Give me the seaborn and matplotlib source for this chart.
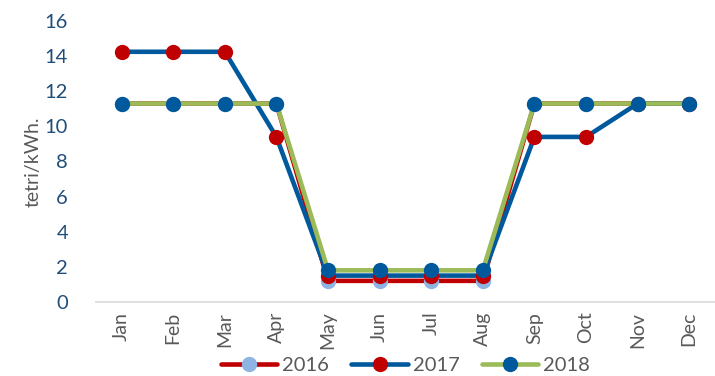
import matplotlib
matplotlib.use("Agg")
import matplotlib.pyplot as plt
import seaborn as sns
import numpy as np

months = ["Jan", "Feb", "Mar", "Apr", "May", "Jun", "Jul", "Aug", "Sep", "Oct", "Nov", "Dec"]
tariff_2016 = [11.3, 11.3, 11.3, 11.3, 1.2, 1.2, 1.2, 1.2, 11.3, 11.3, 11.3, 11.3]
tariff_2017 = [14.25, 14.25, 14.25, 9.4, 1.5, 1.5, 1.5, 1.5, 9.4, 9.4, 11.3, 11.3]
tariff_2018 = [11.3, 11.3, 11.3, 11.3, 1.8, 1.8, 1.8, 1.8, 11.3, 11.3, 11.3, 11.3]
years = ["2016", "2017", "2018"]

# (line colour, marker colour) per series
styles = {
    "2016": ("#C00000", "#8DB4E2"),
    "2017": ("#00599C", "#C00000"),
    "2018": ("#9BBB59", "#00599C"),
}

sns.set_theme(style="white")
plt.rcParams["font.family"] = ["Lato", "DejaVu Sans"]

fig = plt.figure(figsize=(7.15, 3.76), dpi=100)
ax = fig.add_axes([0.134, 0.197, 0.866, 0.747])

x = np.arange(len(months))
for year, vals in zip(years, [tariff_2016, tariff_2017, tariff_2018]):
    line_c, mark_c = styles[year]
    sns.lineplot(x=x, y=vals, ax=ax, color=line_c, linewidth=3.3,
                 marker="o", markersize=11, markerfacecolor=mark_c,
                 markeredgecolor=mark_c, markeredgewidth=0, label=year)

ax.set_xlim(-0.5, len(months) - 0.5)
ax.set_ylim(0, 16)
ax.set_yticks(range(0, 17, 2))
ax.set_xticks(x)
ax.set_xticklabels(months, rotation=90, fontsize=14, color="#595959")
ax.tick_params(axis="x", length=0, pad=7)
ax.tick_params(axis="y", length=0, pad=20, labelsize=14.5, labelcolor="#1F4E79")

# tick marks between categories
ax.set_xticks(np.arange(-0.5, len(months) + 0.5, 1), minor=True)
ax.tick_params(axis="x", which="minor", length=5, width=1, color="#D9D9D9", direction="out")

for side in ["top", "right", "left"]:
    ax.spines[side].set_visible(False)
ax.spines["bottom"].set_color("#D9D9D9")
ax.spines["bottom"].set_linewidth(1.2)

ax.set_ylabel("tetri/kWh.", fontsize=14, color="#595959", labelpad=2)
ax.set_xlabel("")

leg = ax.legend(loc="center", bbox_to_anchor=(0.50, -0.225), ncol=3, frameon=False,
                fontsize=14.5, handlelength=2.8, handletextpad=0.25, columnspacing=1.1,
                borderpad=0, borderaxespad=0)
for t in leg.get_texts():
    t.set_color("#595959")

fig.savefig("out.png", dpi=100)
